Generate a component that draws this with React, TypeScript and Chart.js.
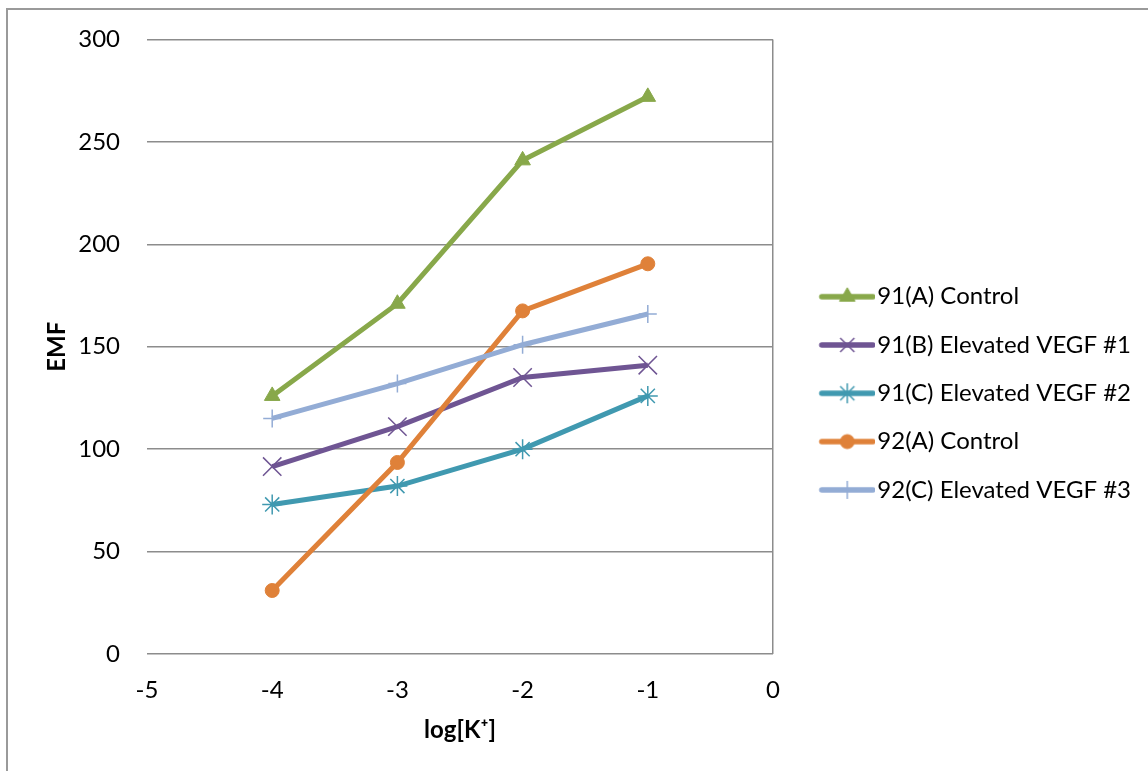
import React, { useEffect, useRef } from 'react';
import { Chart, registerables } from 'chart.js';

Chart.register(...registerables);

// ---- Data ----
const xValues = [-4, -3, -2, -1];
const series91A = [126, 171, 241, 272];
const series91B = [91.5, 111, 135, 141];
const series91C = [73, 82, 100, 126];
const series92A = [31, 93.5, 167.5, 190.5];
const series92C = [115, 132, 151, 166];
const seriesLabels = [
  '91(A) Control',
  '91(B) Elevated VEGF #1',
  '91(C) Elevated VEGF #2',
  '92(A) Control',
  '92(C) Elevated VEGF #3',
];
const xTitle = 'log[K⁺]';
const yTitle = 'EMF';
const xMin = -5;
const xMax = 0;
const xStep = 1;
const yMin = 0;
const yMax = 300;
const yStep = 50;

// ---- Styles ----
const allSeries = [series91A, series91B, series91C, series92A, series92C];
const seriesColors = ['#88A84A', '#6F5593', '#4099B0', '#DF8139', '#93ACD5'];
const seriesMarkers = ['triangle', 'crossRot', 'star', 'circle', 'cross'];
const markerRadii = [9, 13, 10, 7, 9];
const GRID = '#8c8c8c';
const FONT = 'Lato';
const FS = 24;
const LINE_W = 5;

const CANVAS_W = 1140;
const CANVAS_H = 763;
const LEGEND_W = 375;
const LEGEND_PAD = 24.3;
const LEGEND_TOP = 4;
const LEGEND_BOTTOM = 766.6;
const BOX_W = 68;
const IMG_W = 88;
const IMG_H = 32;
const LINE_START = 32;

function drawMarker(ctx: CanvasRenderingContext2D, style: string, x: number, y: number, r: number, color: string) {
  ctx.save();
  ctx.fillStyle = color;
  ctx.strokeStyle = color;
  ctx.lineCap = 'butt';
  ctx.beginPath();
  const Q = Math.PI / 4;
  if (style === 'triangle') {
    let rad = 0;
    ctx.lineWidth = 1;
    ctx.moveTo(x + Math.sin(rad) * r, y - Math.cos(rad) * r);
    rad += (2 * Math.PI) / 3;
    ctx.lineTo(x + Math.sin(rad) * r, y - Math.cos(rad) * r);
    rad += (2 * Math.PI) / 3;
    ctx.lineTo(x + Math.sin(rad) * r, y - Math.cos(rad) * r);
    ctx.closePath();
    ctx.fill();
    ctx.stroke();
  } else if (style === 'circle') {
    ctx.lineWidth = 1;
    ctx.arc(x, y, r, 0, Math.PI * 2);
    ctx.fill();
    ctx.stroke();
  } else {
    ctx.lineWidth = 1.5;
    const drawCross = (rad: number) => {
      const xo = Math.cos(rad) * r;
      const yo = Math.sin(rad) * r;
      ctx.moveTo(x - xo, y - yo);
      ctx.lineTo(x + xo, y + yo);
      ctx.moveTo(x + yo, y - xo);
      ctx.lineTo(x - yo, y + xo);
    };
    if (style === 'cross') drawCross(0);
    else if (style === 'crossRot') drawCross(Q);
    else {
      drawCross(0);
      drawCross(Q);
    }
    ctx.stroke();
  }
  ctx.restore();
}

function makeLegendImage(color: string, style: string, r: number) {
  const c = document.createElement('canvas');
  c.width = IMG_W;
  c.height = IMG_H;
  const ctx = c.getContext('2d')!;
  ctx.strokeStyle = color;
  ctx.lineWidth = 5.5;
  ctx.lineCap = 'round';
  ctx.beginPath();
  ctx.moveTo(LINE_START + 2.5, IMG_H / 2);
  ctx.lineTo(IMG_W - 2.5, IMG_H / 2);
  ctx.stroke();
  drawMarker(ctx, style, (LINE_START + IMG_W) / 2, IMG_H / 2, Math.min(r, 10), color);
  return c;
}

const legendLayoutPlugin = {
  id: 'legendLayout',
  beforeLayout(chart: any) {
    const lg = chart.legend;
    if (lg && !lg.__patched) {
      const orig = lg.fit.bind(lg);
      lg.fit = function () {
        orig();
        this.width = LEGEND_W;
      };
      lg.__patched = true;
    }
  },
  afterLayout(chart: any) {
    const lg = chart.legend;
    if (lg) {
      lg.top = LEGEND_TOP;
      lg.bottom = LEGEND_BOTTOM;
      lg.height = LEGEND_BOTTOM - LEGEND_TOP;
    }
  },
};

export default function App() {
  const ref = useRef<HTMLCanvasElement | null>(null);

  useEffect(() => {
    if (!ref.current) return;
    Chart.defaults.font.family = FONT;
    Chart.defaults.color = '#000';
    const legendImgs = allSeries.map((_, i) => makeLegendImage(seriesColors[i], seriesMarkers[i], markerRadii[i]));

    const chart = new Chart(ref.current, {
      type: 'line',
      data: {
        datasets: allSeries.map((vals, i) => ({
          label: seriesLabels[i],
          data: xValues.map((x, j) => ({ x, y: vals[j] })),
          borderColor: seriesColors[i],
          backgroundColor: seriesColors[i],
          borderWidth: LINE_W,
          pointStyle: seriesMarkers[i] as any,
          pointRadius: markerRadii[i],
          pointHoverRadius: markerRadii[i],
          pointBorderWidth: seriesMarkers[i] === 'triangle' || seriesMarkers[i] === 'circle' ? 1 : 1.5,
          pointBackgroundColor: seriesColors[i],
          pointBorderColor: seriesColors[i],
          tension: 0,
          order: -i,
          clip: false as any,
        })),
      },
      options: {
        responsive: false,
        maintainAspectRatio: false,
        animation: false,
        events: [],
        layout: { padding: { top: 31.5, left: 0, right: 0, bottom: 0 } },
        plugins: {
          tooltip: { enabled: false },
          legend: {
            display: true,
            position: 'right',
            align: 'center',
            labels: {
              usePointStyle: true,
              pointStyleWidth: BOX_W,
              padding: LEGEND_PAD,
              color: '#000',
              font: { family: FONT, size: FS },
              generateLabels: (ch: any) =>
                ch.data.datasets.map((ds: any, i: number) => ({
                  text: ds.label,
                  pointStyle: legendImgs[i],
                  fillStyle: 'rgba(0,0,0,0)',
                  strokeStyle: 'rgba(0,0,0,0)',
                  lineWidth: 0,
                  hidden: false,
                  datasetIndex: i,
                  fontColor: '#000',
                })),
            },
          },
        },
        scales: {
          x: {
            type: 'linear',
            min: xMin,
            max: xMax,
            ticks: { stepSize: xStep, padding: 22, color: '#000', font: { family: FONT, size: FS } },
            grid: {
              drawTicks: false,
              lineWidth: 1.5,
              color: (c: any) => (c.tick && c.tick.value === 0 ? GRID : 'rgba(0,0,0,0)'),
            },
            border: { display: false },
            title: {
              display: true,
              text: xTitle,
              color: '#000',
              font: { family: FONT, size: FS, weight: 'bold' },
              padding: { top: 0, bottom: 26.6 },
            },
            afterFit: (s: any) => {
              s.height = 117;
            },
          },
          y: {
            type: 'linear',
            min: yMin,
            max: yMax,
            ticks: { stepSize: yStep, padding: 0, color: '#000', font: { family: FONT, size: FS } },
            grid: {
              drawTicks: true,
              tickLength: 27,
              tickColor: 'rgba(0,0,0,0)',
              lineWidth: 1.5,
              color: GRID,
            },
            border: { display: false },
            title: {
              display: true,
              text: yTitle,
              color: '#000',
              font: { family: FONT, size: FS, weight: 'bold' },
              padding: { top: 34.6, bottom: 0 },
            },
            afterFit: (s: any) => {
              s.width = 139;
            },
          },
        },
      } as any,
      plugins: [legendLayoutPlugin],
    });
    return () => chart.destroy();
  }, []);

  return (
    <div>
      <div
        style={{
          position: 'fixed',
          left: 6,
          top: 8,
          right: -10,
          bottom: -10,
          borderLeft: '2px solid #9a9a9a',
          borderTop: '2px solid #9a9a9a',
          pointerEvents: 'none',
        }}
      />
      <canvas ref={ref} width={CANVAS_W} height={CANVAS_H} style={{ display: 'block', width: CANVAS_W, height: CANVAS_H }} />
    </div>
  );
}
